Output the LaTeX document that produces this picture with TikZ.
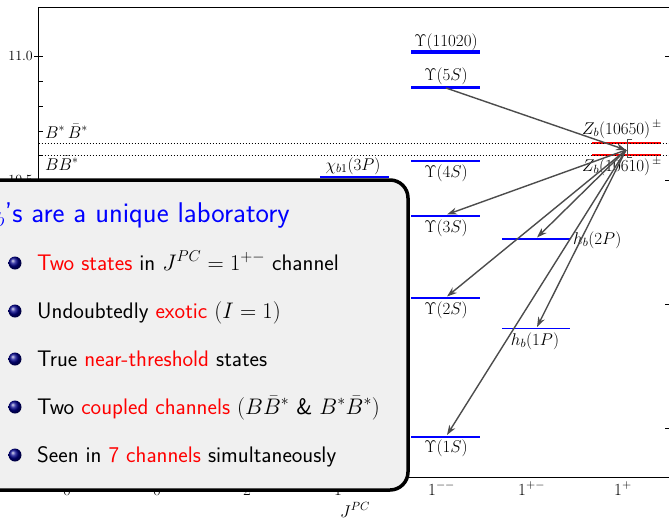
\RequirePackage{fix-cm}
\documentclass[tikz,border=0pt]{standalone}
\usetikzlibrary{arrows.meta}
\begin{document}
\begin{tikzpicture}[x=1pt,y=-1pt,
  spine/.style={line width=0.9pt},
  tbar/.style={blue, line width=1.8pt},
  kbar/.style={blue, line width=3.5pt},
  zbar/.style={red, line width=2pt},
  thr/.style={line width=0.8pt, dash pattern=on 0.8pt off 2.2pt},
  arr/.style={-{Stealth[length=10pt,width=7pt]}, line width=1.4pt, black!70},
  lab/.style={font=\fontsize{17}{20}\selectfont, inner sep=0pt},
  tlab/.style={font=\fontsize{14}{16}\selectfont, inner sep=0pt},
  item/.style={font=\sffamily\fontsize{22.5}{26}\selectfont, inner sep=0pt, anchor=base west},
  bul/.style={ball color=blue!55!black},
  panel/.style={line width=3.5pt, fill=black!6, rounded corners=18pt}
]
\useasboundingbox (0,0) rectangle (669,520);
\clip (0,0) rectangle (669,520);

% frame
\draw[spine] (38.5,7) -- (38.5,477);
\draw[spine] (38.5,7) -- (675,7);
\draw[spine] (38.5,477) -- (675,477);
\foreach \yy in {56,180,304,428} {
  \draw[spine] (34,\yy) -- (43,\yy);
  \draw[spine] (665,\yy) -- (675,\yy);
}
\foreach \yy in {81,106,131,155.6,205,230,255,279,329,354,379,403,453} {
  \draw[spine] (38.5,\yy) -- (42.5,\yy);
}
\node[tlab, anchor=east] (t110) at (33,56) {11.0};
\node[tlab, anchor=east] (t105) at (33,180) {10.5};

% levels
\draw[kbar] (411,52) -- (480,52);
\draw[kbar] (411,87.5) -- (480,87.5);
\draw[tbar] (411,161) -- (480,161);
\draw[tbar] (320,177) -- (389,177);
\draw[tbar] (411,216) -- (480,216);
\draw[tbar] (411,298) -- (480,298);
\draw[tbar] (411,437) -- (480,437);
\draw[tbar] (502,239) -- (570,239);
\draw[tbar] (502,328.5) -- (570,328.5);
\draw[zbar] (592,143) -- (661,143);
\draw[zbar] (592,154.5) -- (661,154.5);

% thresholds
\draw[thr] (38.5,143) -- (669,143);
\draw[thr] (38.5,155) -- (669,155);
\node[lab, anchor=base west] (bsbs) at (45,138) {$B^*\,\bar B^*$};
\node[lab, anchor=base west] (bbs) at (45,170) {$B\bar B^*$};

% level labels
\node[lab] (l11020) at (446,42) {$\Upsilon(11020)$};
\node[lab] (l5s) at (446,76) {$\Upsilon(5S)$};
\node[lab] (l4s) at (446,173) {$\Upsilon(4S)$};
\node[lab] (lchi) at (353,166) {$\chi_{b1}(3P)$};
\node[lab] (l3s) at (446,228) {$\Upsilon(3S)$};
\node[lab] (l2s) at (446,310) {$\Upsilon(2S)$};
\node[lab] (l1s) at (446,448) {$\Upsilon(1S)$};
\node[lab, anchor=west] (lh2) at (573,240) {$h_b(2P)$};
\node[lab] (lh1) at (535,341) {$h_b(1P)$};
\node[lab, anchor=base west] (lz1) at (582,134) {$Z_b(10650)^{\,\pm}$};
\node[lab, anchor=base west] (lz2) at (582,171) {$Z_b(10610)^{\,\pm}$};

% bracket and transitions
\draw[black!70, line width=0.8pt] (632,139) -- (627,139) -- (627,157) -- (632,157);
\coordinate (zb) at (626,150);
\coordinate (u5) at (446,88);
\coordinate (t3s) at (447,214.5);
\coordinate (t2s) at (447,296.5);
\coordinate (t1s) at (447,435);
\coordinate (th2) at (537,237.5);
\coordinate (th1) at (537,327);
\draw[arr] (u5) -- (zb);
\draw[arr] (zb) -- (t3s);
\draw[arr] (zb) -- (t2s);
\draw[arr] (zb) -- (t1s);
\draw[arr] (zb) -- (th2);
\draw[arr] (zb) -- (th1);

% x labels
\node[lab, anchor=base west] (x1) at (63,495) {$0^{-+}$};
\node[lab, anchor=base west] (x2) at (153,495) {$0^{++}$};
\node[lab, anchor=base west] (x3) at (243,495) {$2^{++}$};
\node[lab, anchor=base west] (x4) at (334,495) {$1^{++}$};
\node[lab, anchor=base west] (x5) at (428,495) {$1^{--}$};
\node[lab, anchor=base west] (x6) at (518,495) {$1^{+-}$};
\node[lab, anchor=base west] (x7) at (614,495) {$1^{+}$};
\node[lab] (xt) at (355,510) {$J^{PC}$};

% panel
\draw[panel] (-40,180) rectangle (408,490);
\node[font=\sffamily\fontsize{28.5}{32}\selectfont, inner sep=0pt, anchor=base east, text=blue] (title) at (290,222) {$Z_b$'s are a unique laboratory};
\foreach \yy in {263,311,359,407,455} { \shade[bul] (15,\yy) circle (6.5); }
\node[item] (i1) at (37,270) {\textcolor{red}{Two states} in $J^{PC}=1^{+-}$ channel};
\node[item] (i2) at (37,318) {Undoubtedly \textcolor{red}{exotic} $(I=1)$};
\node[item] (i3) at (37,366) {True \textcolor{red}{near-threshold} states};
\node[item] (i4) at (37,414) {Two \textcolor{red}{coupled channels} $(B\bar B^*$ \& $B^*\bar B^*)$};
\node[item] (i5) at (37,462) {Seen in \textcolor{red}{7 channels} simultaneously};
\end{tikzpicture}
\end{document}
